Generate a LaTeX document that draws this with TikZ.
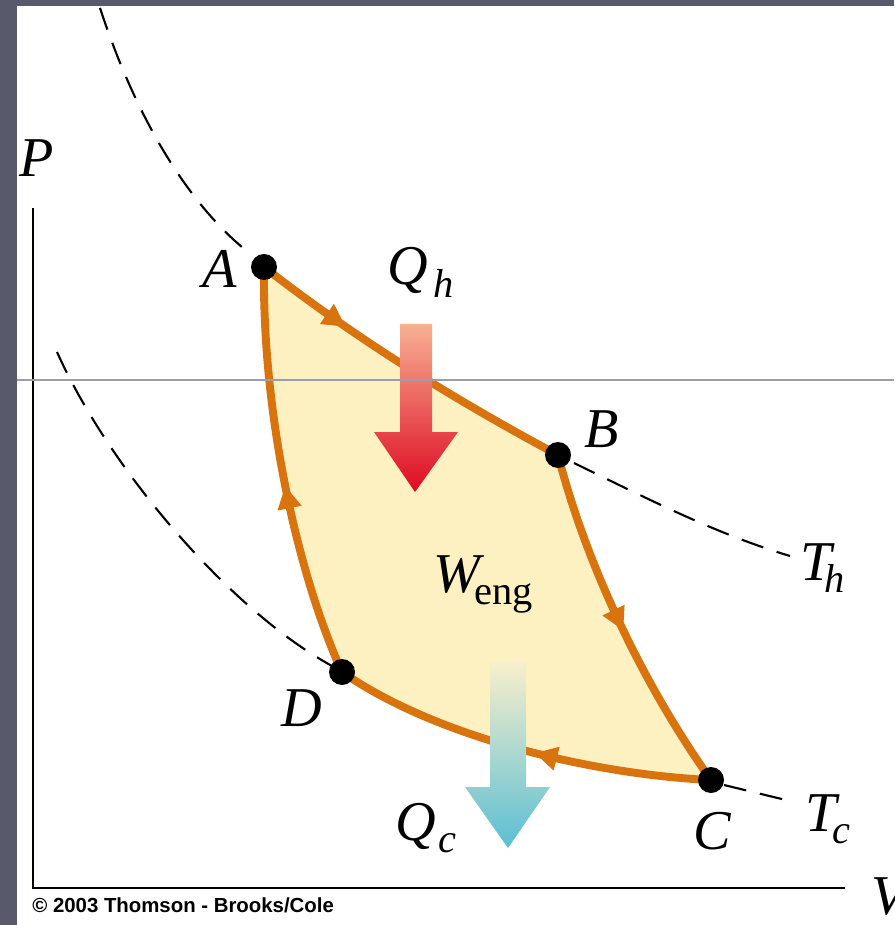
\documentclass[tikz,border=0pt]{standalone}
\usepackage{fontspec}
\setmainfont{Liberation Serif}
\setsansfont{Liberation Sans}
\usepackage{xcolor}
\usetikzlibrary{arrows.meta,decorations.markings}
\definecolor{slate}{HTML}{585A6B}
\definecolor{cycleorange}{HTML}{D8730E}
\definecolor{cyclefill}{HTML}{FDF1C2}
\definecolor{hottop}{HTML}{F7B092}
\definecolor{hotbot}{HTML}{DE0A22}
\definecolor{coldtop}{HTML}{FAF0CC}
\definecolor{coldbot}{HTML}{5BBED3}
\definecolor{rulegray}{HTML}{9A9DB0}
\newcommand{\sublbl}[2][-0.22em]{\raisebox{#1}{\fontsize{23}{26}\selectfont #2}}

\begin{document}
\begin{tikzpicture}[x=0.02cm,y=-0.02cm,
  lbl/.style={inner sep=0pt,font=\fontsize{32}{36}\selectfont\itshape},
  iso/.style={line width=1.2pt,dash pattern=on 13pt off 8pt},
  leg/.style={line width=4.5pt,cycleorange,postaction={decorate},
    decoration={markings,mark=at position #1 with {\arrow{Triangle[length=13pt 0 0,width=13pt 0 0]}}}},
  statedot/.style={circle,fill=black,inner sep=0pt,minimum size=0.52cm}]
\useasboundingbox (0,0) rectangle (894,925);
\fill[slate] (0,0) rectangle (894,925);
\fill[white] (17,6) rectangle (894,925);
% axes
\draw[line width=1.6pt] (33,208)--(33,888)--(845,888);
\node[lbl] (P) at (37,158) {P};
\node[lbl,anchor=west] (V) at (871,897) {V};
% state points
\coordinate (A) at (264,267);
\coordinate (B) at (558,455);
\coordinate (C) at (711,780);
\coordinate (D) at (342,672);
% enclosed area
\fill[cyclefill] (A) .. controls (355,338) and (455,400) .. (B)
  .. controls (585,560) and (640,680) .. (C)
  .. controls (600,775) and (440,740) .. (D)
  .. controls (300,580) and (262,420) .. (A) -- cycle;
% isotherms
\draw[iso] (100,8) .. controls (140,130) and (195,210) .. (248,252);
\draw[iso] (574,463) .. controls (660,505) and (720,535) .. (790,556);
\draw[iso] (57,352) .. controls (110,470) and (230,610) .. (332,666);
\draw[iso] (724,785) -- (790,801);
% cycle
\draw[leg=0.29] (A) .. controls (355,338) and (455,400) .. (B);
\draw[leg=0.52] (B) .. controls (585,560) and (640,680) .. (C);
\draw[leg=0.46] (C) .. controls (600,775) and (440,740) .. (D);
\draw[leg=0.47] (D) .. controls (300,580) and (262,420) .. (A);
% heat arrows
\shade[top color=hottop,bottom color=hotbot] (400,324)--(432,324)--(432,432)--(458,432)--(415,492)--(374,432)--(400,432)--cycle;
\shade[top color=coldtop,bottom color=coldbot] (490,660)--(526,660)--(526,787)--(550,787)--(508,848)--(465,787)--(490,787)--cycle;
\foreach \p in {A,B,C,D} \node[statedot] (dot\p) at (\p) {};
% labels
\node[lbl] (labA) at (220,269) {A};
\node[lbl] (labB) at (602,429) {B};
\node[lbl] (labC) at (712,831) {C};
\node[lbl] (labD) at (302,708) {D};
\node[lbl,anchor=base west] (Qh) at (387,285) {Q\kern0.1em\sublbl{h}};
\node[lbl,anchor=base west] (Qc) at (395,840) {Q\kern0.05em\sublbl{c}};
\node[lbl,anchor=base west] (Th) at (800,580) {T\kern-0.12em\sublbl{h}};
\node[lbl,anchor=base west] (Tc) at (805,831) {T\kern-0.08em\sublbl{c}};
\node[lbl,anchor=base west] (Weng) at (433,592) {W\kern-0.1em\sublbl{\upshape eng}};
\node[inner sep=0pt,anchor=west,font=\sffamily\bfseries\fontsize{11.6}{13}\selectfont] (credit) at (32,905) {\textcopyright{} 2003 Thomson - Brooks/Cole};
% slide rule
\draw[rulegray,line width=0.8pt] (17,380)--(894,380);
\end{tikzpicture}
\end{document}
